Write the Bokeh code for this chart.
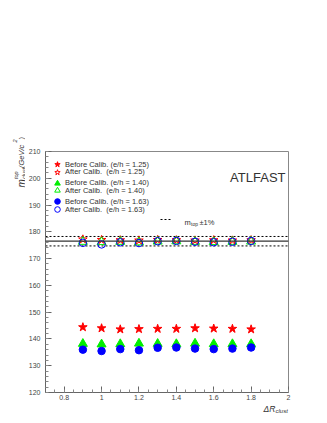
import math
from bokeh.plotting import figure
from bokeh.layouts import row, column
from bokeh.models import (Range1d, FixedTicker, NumeralTickFormatter, Legend, LegendItem,
                          Label, Span)
from bokeh.embed import file_html
from bokeh.resources import INLINE

# ---- data ----
dr = [0.9, 1.0, 1.1, 1.2, 1.3, 1.4, 1.5, 1.6, 1.7, 1.8]
before_125 = [144.4, 144.0, 143.6, 143.7, 143.8, 143.8, 144.0, 143.9, 143.8, 143.6]
after_125 = [177.2, 177.0, 176.9, 176.8, 177.0, 176.9, 176.8, 176.9, 176.8, 176.9]
before_140 = [138.2, 138.0, 138.1, 138.3, 138.2, 138.1, 138.3, 138.1, 138.1, 138.1]
after_140 = [176.3, 176.2, 176.3, 176.1, 176.4, 176.5, 176.3, 176.2, 176.3, 176.4]
before_163 = [136.0, 135.5, 136.2, 135.8, 136.7, 136.8, 136.4, 136.2, 136.4, 136.8]
after_163 = [175.9, 175.3, 176.1, 175.8, 176.5, 176.6, 176.3, 176.1, 176.3, 176.6]
m_top = 176.5
tolerance = 0.01
x_ticks = [0.8, 1.0, 1.2, 1.4, 1.6, 1.8, 2.0]
y_ticks = [120, 130, 140, 150, 160, 170, 180, 190, 200, 210]
labels = ["Before Calib. (e/h = 1.25)", "After Calib.  (e/h = 1.25)",
          "Before Calib. (e/h = 1.40)", "After Calib.  (e/h = 1.40)",
          "Before Calib. (e/h = 1.63)", "After Calib.  (e/h = 1.63)"]

X0, X1, Y0, Y1 = 0.7, 2.0, 120, 210
PAGE_W, PAGE_H = 327, 423
LW = 25                 # width of the strip holding the y-axis title
MH = 402                # height of the main figure
W, H = PAGE_W - LW, MH
FL, FR, FT, FB = 20, 39, 151, 10   # main-figure frame borders
FW, FH = W - FL - FR, H - FT - FB
PX0 = LW + FL           # frame left in page px

FONT = "Liberation Sans"
TXT = "#333333"

p = figure(width=W, height=H, output_backend="svg", toolbar_location=None,
           x_range=Range1d(X0, X1), y_range=Range1d(Y0, Y1),
           min_border_left=FL, min_border_right=FR, min_border_top=FT, min_border_bottom=FB)
p.background_fill_color = "white"
p.border_fill_color = "white"
p.outline_line_color = "#888888"
p.outline_line_width = 1
p.xgrid.visible = False
p.ygrid.visible = False

minor_x = [round(X0 + 0.05 * i, 3) for i in range(int(round((X1 - X0) / 0.05)) + 1)]
minor_y = list(range(Y0, Y1 + 1, 2))
p.xaxis.ticker = FixedTicker(ticks=x_ticks, minor_ticks=minor_x)
p.yaxis.ticker = FixedTicker(ticks=y_ticks, minor_ticks=minor_y)
p.xaxis.formatter = NumeralTickFormatter(format="0.[0]")
for ax in (p.xaxis[0], p.yaxis[0]):
    ax.axis_line_color = "#666666"
    ax.major_tick_line_color = "#666666"
    ax.minor_tick_line_color = "#888888"
    ax.major_tick_in = 6
    ax.major_tick_out = 0
    ax.minor_tick_in = 3
    ax.minor_tick_out = 0
    ax.major_label_text_font = FONT
    ax.major_label_text_font_size = "7px"
    ax.major_label_text_color = "#444444"
p.yaxis.major_label_standoff = 5
p.xaxis.major_label_standoff = 2

# reference lines
p.add_layout(Span(location=m_top, dimension="width", line_color="#333333", line_width=1.3))
xl = [X0, X1]
dash_hi = p.line(xl, [m_top * (1 + tolerance)] * 2, line_color="black", line_dash="2 2", line_width=1)
dash_lo = p.line(xl, [m_top * (1 - tolerance)] * 2, line_color="black", line_dash="2 2", line_width=1)

RED, GREEN, BLUE = "#ff0000", "#00ee00", "#0000ff"
r1 = p.scatter(dr, before_125, marker="star", size=9, fill_color=RED, line_color=RED)
r2 = p.scatter(dr, after_125, marker="star", size=9, fill_color=None, line_color=RED, line_width=1)
r3 = p.scatter(dr, before_140, marker="triangle", size=9, fill_color=GREEN, line_color=GREEN)
r4 = p.scatter(dr, after_140, marker="triangle", size=9, fill_color=None, line_color=GREEN, line_width=1)
r5 = p.scatter(dr, before_163, marker="circle", size=7.5, fill_color=BLUE, line_color=BLUE)
r6 = p.scatter(dr, after_163, marker="circle", size=7.5, fill_color=None, line_color=BLUE, line_width=1)


def make_legend(label, rend, left_abs, center_abs, gw=14, gh=14, standoff=1):
    vx = left_abs - PX0
    vy = (FT + FH) - (center_abs + gh / 2)
    lg = Legend(items=[LegendItem(label=label, renderers=[rend])], location=(vx, vy),
                padding=0, margin=0, spacing=0, label_height=gh, glyph_height=gh,
                glyph_width=gw, label_standoff=standoff,
                label_text_font=FONT, label_text_font_size="7.5px", label_text_color=TXT,
                border_line_color=None, background_fill_alpha=0)
    p.add_layout(lg)


rows = [164, 171.7, 182.7, 190.3, 201.3, 209.3]
for lbl, rend, cy in zip(labels, [r1, r2, r3, r4, r5, r6], rows):
    make_legend(lbl, rend, 50, cy)
make_legend(" ", dash_hi, 160, 219, gw=11, gh=8)


def lab(fig, text, x, y, size, angle=0.0, italic=False, align="left", units="screen"):
    if units == "screen":   # page px -> frame-relative screen units of the main figure
        kw = dict(x=x - PX0, y=(FT + FH) - y, x_units="screen", y_units="screen")
    else:                   # helper figures: data units are page px
        kw = dict(x=x, y=y)
    fig.add_layout(Label(text=text, angle=angle, text_align=align,
                         text_baseline="alphabetic", text_font=FONT, text_font_size=f"{size}px",
                         text_font_style="italic" if italic else "normal", text_color=TXT, **kw))


# m_top +-1% legend text
lab(p, "m", 184, 221.5, 7.5)
lab(p, "top", 190.5, 223, 5)
lab(p, "\u00b11%", 199, 221.5, 7.5)

# ATLFAST
lab(p, "ATLFAST", 285, 177.3, 13, align="right")


def helper(width, height, x0, x1, y0, bl=0, br=0):
    f = figure(width=width, height=height, output_backend="svg", toolbar_location=None,
               x_range=Range1d(x0, x1), y_range=Range1d(y0 + height, y0),
               x_axis_location=None, y_axis_location=None,
               min_border_left=bl, min_border_right=br, min_border_top=0, min_border_bottom=0)
    f.outline_line_color = None
    f.xgrid.visible = False
    f.ygrid.visible = False
    f.background_fill_color = "white"
    f.border_fill_color = "white"
    return f


# y axis title (rotated), in a full-height strip left of everything
yl = helper(LW, PAGE_H, 0, LW, 0)
A = math.pi / 2
bx = 20.5
lab(yl, "m", bx, 187, 10, angle=A, italic=True, units="data")
lab(yl, "clust", bx + 2.5, 178.5, 5.5, angle=A, italic=True, units="data")
lab(yl, "top", bx - 5, 178.5, 5.5, angle=A, italic=True, units="data")
lab(yl, " (GeV/c", bx, 167.5, 7.5, angle=A, italic=True, units="data")
lab(yl, "2", bx - 6.5, 142.0, 5.5, angle=A, italic=True, units="data")
lab(yl, ")", bx, 139.0, 7.5, angle=A, italic=True, units="data")

# x axis title, in a strip under the main figure (its frame aligns with the main frame)
xlf = helper(W, PAGE_H - MH, PX0, PAGE_W - FR, MH, bl=FL, br=FR)
lab(xlf, "\u0394R", 263, 408, 8.5, italic=True, units="data")
lab(xlf, "clust", 275, 410.5, 6, italic=True, units="data")

layout = row(yl, column(p, xlf, spacing=0), spacing=0)
open("out.html", "w").write(file_html(layout, INLINE))
